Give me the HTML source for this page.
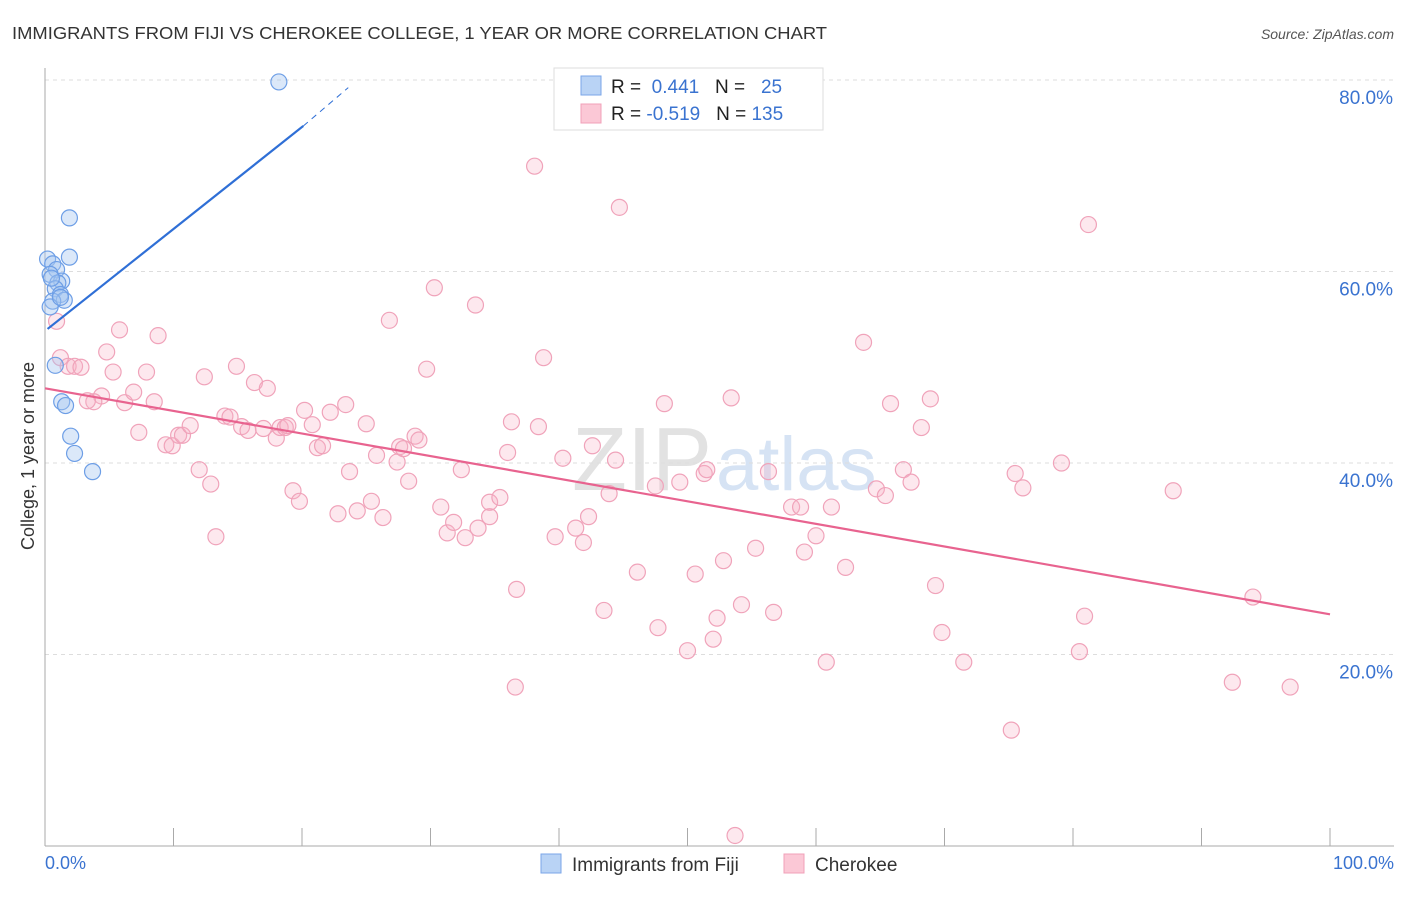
<!DOCTYPE html>
<html><head><meta charset="utf-8"><style>
body{margin:0;background:#fff;font-family:"Liberation Sans",sans-serif;}
svg text{font-family:"Liberation Sans",sans-serif;}
</style></head><body>
<svg width="1406" height="892" viewBox="0 0 1406 892" xmlns="http://www.w3.org/2000/svg">
<text x="12" y="39" font-size="17.5" fill="#333" textLength="815" lengthAdjust="spacingAndGlyphs">IMMIGRANTS FROM FIJI VS CHEROKEE COLLEGE, 1 YEAR OR MORE CORRELATION CHART</text>
<text x="1394" y="39" font-size="14" fill="#555" font-style="italic" text-anchor="end">Source: ZipAtlas.com</text>
<text x="712" y="490" font-size="90" fill="#e2e2e2" font-family="Liberation Serif" text-anchor="end">ZIP</text>
<text x="716" y="490" font-size="76" fill="#d6e3f4" text-anchor="start">atlas</text>
<g id="grid"></g>
<g id="axes"></g>
<g id="pts"></g>
<g id="trend"></g>
<text transform="translate(34,456) rotate(-90)" font-size="18" fill="#333" text-anchor="middle">College, 1 year or more</text>
<text x="45" y="869" font-size="18" fill="#3a73d0">0.0%</text>
<text x="1394" y="869" font-size="18" fill="#3a73d0" text-anchor="end">100.0%</text>
<g>
<rect x="554" y="68" width="269" height="62" fill="#fff" stroke="#ddd"/>
<rect x="581" y="76" width="20" height="19" fill="#b9d3f5" stroke="#7aa6e8"/>
<rect x="581" y="104" width="20" height="19" fill="#fbc8d6" stroke="#f0a0b8"/>
<text x="611" y="93" font-size="19" fill="#222">R = <tspan fill="#3a73d0">&#160;0.441</tspan>&#160;&#160;&#160;N = <tspan fill="#3a73d0">&#160;&#160;25</tspan></text>
<text x="611" y="120" font-size="19" fill="#222">R = <tspan fill="#3a73d0">-0.519</tspan>&#160;&#160;&#160;N = <tspan fill="#3a73d0">135</tspan></text>
</g>
<g>
<rect x="541" y="854" width="20" height="19" fill="#b9d3f5" stroke="#7aa6e8"/>
<text x="572" y="871" font-size="19" fill="#333">Immigrants from Fiji</text>
<rect x="784" y="854" width="20" height="19" fill="#fbc8d6" stroke="#f0a0b8"/>
<text x="815" y="871" font-size="19" fill="#333">Cherokee</text>
</g>
</svg>
<script>
const yTicks=[20,40,60,80];
const yTickLabels=["20.0%","40.0%","60.0%","80.0%"];
const xTicks=[0,10,20,30,40,50,60,70,80,90,100];
const fijiX=[18.2,1.9,1.9,0.2,0.6,0.9,0.4,1.3,1.0,0.8,1.2,1.5,0.6,0.4,0.8,1.3,1.6,2.0,2.3,3.7,0.5,1.2];
const fijiY=[79.8,65.6,61.5,61.3,60.8,60.2,59.7,59.0,58.8,58.2,57.6,57.0,56.9,56.3,50.2,46.4,46.0,42.8,41.0,39.1,59.3,57.3];
const cherX=[0.9,1.2,1.8,2.3,2.8,4.8,5.8,8.8,4.4,3.8,3.3,5.3,6.2,6.9,7.9,8.5,7.3,9.4,9.9,10.4,10.7,11.3,12.0,12.4,12.9,13.3,14.0,14.4,14.9,15.3,15.8,16.3,17.0,17.3,18.0,18.3,18.7,18.9,19.3,19.8,20.2,20.8,21.2,21.6,22.2,22.8,23.4,23.7,24.3,25.0,25.4,26.3,25.8,26.8,27.4,27.6,27.9,28.8,29.1,28.3,29.7,30.3,30.8,31.3,31.8,32.4,32.7,33.5,33.7,34.6,34.6,35.4,36.0,36.3,36.7,36.6,38.1,38.4,38.8,39.7,40.3,41.3,41.9,42.3,42.6,43.5,43.9,44.4,44.7,46.1,47.5,47.7,48.2,49.4,50.0,50.6,51.3,51.5,52.0,52.3,52.8,53.4,53.7,54.2,55.3,56.3,56.7,58.1,58.8,59.1,60.0,60.8,61.2,62.3,63.7,64.7,65.4,65.8,66.8,67.4,68.2,68.9,69.3,69.8,71.5,75.2,75.5,76.1,79.1,80.5,80.9,81.2,87.8,92.4,94.0,96.9];
const cherY=[54.8,51.0,50.1,50.1,50.0,51.6,53.9,53.3,47.0,46.4,46.5,49.5,46.3,47.4,49.5,46.4,43.2,41.9,41.8,42.9,42.9,43.9,39.3,49.0,37.8,32.3,44.9,44.8,50.1,43.8,43.4,48.4,43.6,47.8,42.6,43.7,43.7,43.9,37.1,36.0,45.5,44.0,41.6,41.8,45.3,34.7,46.1,39.1,35.0,44.1,36.0,34.3,40.8,54.9,40.1,41.7,41.5,42.8,42.4,38.1,49.8,58.3,35.4,32.7,33.8,39.3,32.2,56.5,33.2,34.4,35.9,36.4,41.1,44.3,26.8,16.6,71.0,43.8,51.0,32.3,40.5,33.2,31.7,34.4,41.8,24.6,36.8,40.3,66.7,28.6,37.6,22.8,46.2,38.0,20.4,28.4,38.9,39.3,21.6,23.8,29.8,46.8,1.1,25.2,31.1,39.1,24.4,35.4,35.4,30.7,32.4,19.2,35.4,29.1,52.6,37.3,36.6,46.2,39.3,38.0,43.7,46.7,27.2,22.3,19.2,12.1,38.9,37.4,40.0,20.3,24.0,64.9,37.1,17.1,26.0,16.6];
const fijiTrend=[[0.2,54.0],[20.1,75.2],[23.6,79.2]];
const cherTrend=[[0,47.8],[100,24.2]];
const NS="http://www.w3.org/2000/svg";
const X=v=>45+v*12.85, Y=v=>846-v*9.575;
function mk(t,a,p){const e=document.createElementNS(NS,t);for(const k in a)e.setAttribute(k,a[k]);p.appendChild(e);return e;}
const grid=document.getElementById('grid'),axes=document.getElementById('axes'),pts=document.getElementById('pts'),trend=document.getElementById('trend');
yTicks.forEach((t,i)=>{
 const l=mk('line',{x1:45,x2:1394,y1:Y(t),y2:Y(t),stroke:'#ddd','stroke-dasharray':'4,4'},grid);
 
 
 const tx=mk('text',{x:1393,y:Y(t)+24,'font-size':19,fill:'#3a73d0','text-anchor':'end'},grid);
 tx.textContent=yTickLabels[i];
 
 
});
const ya=mk('line',{x1:45,x2:45,y1:68,y2:846,stroke:'#aaa'},axes);


const xa=mk('line',{x1:45,x2:1394,y1:846,y2:846,stroke:'#aaa'},axes);


xTicks.forEach(t=>{
 const l=mk('line',{x1:X(t),x2:X(t),y1:828,y2:846,stroke:'#aaa'},axes);
 
 
});
cherX.forEach((x,i)=>{
 const c=mk('circle',{cx:X(x),cy:Y(cherY[i]),r:8,fill:'rgba(248,180,200,0.3)',stroke:'#f0a3ba','stroke-width':1.2},pts);
 
 
});
fijiX.forEach((x,i)=>{
 const c=mk('circle',{cx:X(x),cy:Y(fijiY[i]),r:8,fill:'rgba(165,198,240,0.4)',stroke:'#6d9ee6','stroke-width':1.2},pts);
 
 
});
const fl=mk('line',{x1:X(fijiTrend[0][0]),y1:Y(fijiTrend[0][1]),x2:X(fijiTrend[1][0]),y2:Y(fijiTrend[1][1]),stroke:'#2f6fd6','stroke-width':2.2},trend);


const fd=mk('line',{x1:X(fijiTrend[1][0]),y1:Y(fijiTrend[1][1]),x2:X(fijiTrend[2][0]),y2:Y(fijiTrend[2][1]),stroke:'#2f6fd6','stroke-width':1,'stroke-dasharray':'6,5'},trend);


const cl=mk('line',{x1:X(cherTrend[0][0]),y1:Y(cherTrend[0][1]),x2:X(cherTrend[1][0]),y2:Y(cherTrend[1][1]),stroke:'#e8638f','stroke-width':2.2},trend);


</script>
</body></html>
